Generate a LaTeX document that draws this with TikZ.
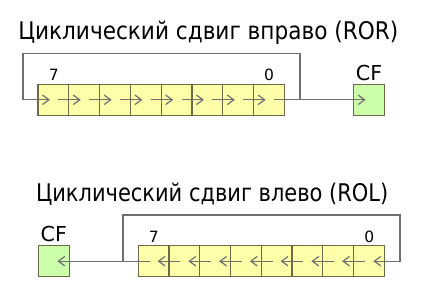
\documentclass[tikz,border=0pt]{standalone}
\usepackage{fontspec}
\setmainfont{DejaVu Sans}
\usetikzlibrary{arrows.meta,calc}
\definecolor{cellfill}{HTML}{FFFFAA}
\definecolor{cellline}{HTML}{6B6B48}
\definecolor{cffill}{HTML}{CCFFAA}
\definecolor{linecol}{HTML}{707070}
\begin{document}
\begin{tikzpicture}[x=1pt,y=-1pt,
  cell/.style={draw=cellline,fill=cellfill,line width=1.1pt,minimum width=30.8pt,minimum height=31pt,inner sep=0pt,outer sep=0pt},
  cfbox/.style={draw=cellline,fill=cffill,line width=1.1pt,minimum width=30.7pt,minimum height=31pt,inner sep=0pt,outer sep=0pt},
  arr/.style={draw=linecol,line width=1.2pt,-{Straight Barb[length=6.5pt,width=9.5pt]}},
  bitlbl/.style={font=\fontsize{15.5}{18}\selectfont,inner sep=0pt,anchor=base},
  cflbl/.style={font=\fontsize{20.6}{24}\selectfont,inner sep=0pt,anchor=base},
  titlelbl/.style={font=\fontsize{24.3}{28}\selectfont,inner sep=0pt,anchor=base}]
\fill[white] (0,0) rectangle (423,300);
\useasboundingbox (0,0) rectangle (423,300);
% titles
\node[titlelbl] (title1) at (208.3,39.3) {\resizebox{380pt}{\height}{Циклический сдвиг вправо (ROR)}};
\node[titlelbl] (title2) at (212.2,201) {\resizebox{352.3pt}{\height}{Циклический сдвиг влево (ROL)}};
% top register
\foreach \i in {1,...,8}{
  \node[cell] (t\i) at ({38+30.8*(\i-1)+15.4},99.8) {};
}
\node[cfbox] (cft) at (369,99.8) {};
\node[cflbl] (cftl) at (369,80) {CF};
\node[bitlbl] (t7l) at (53.7,80.7) {7};
\node[bitlbl] (t0l) at (269,80.7) {0};
\foreach \i [evaluate=\i as \j using int(\i+1)] in {1,...,7}{
  \draw[arr] ($(t\i.west)+(20.3,0)$) -- ($(t\j.west)+(12,0)$);
}
\draw[arr] ($(t8.west)+(20.3,0)$) -- ($(cft.west)+(12,0)$);
\coordinate (tjr) at (300,99.8);
\coordinate (ttl) at (23,53.7);
\draw[arr] (tjr) |- (ttl) |- ($(t1.west)+(12,0)$);
% bottom register
\foreach \i in {1,...,8}{
  \node[cell] (b\i) at ({138.3+30.75*(\i-1)+15.375},261.2) {};
}
\node[cfbox] (cfb) at (53.7,261.2) {};
\node[cflbl] (cfbl) at (53.8,241.7) {CF};
\node[bitlbl] (b7l) at (153.7,242.3) {7};
\node[bitlbl] (b0l) at (369.3,242.3) {0};
\foreach \i [evaluate=\i as \j using int(\i-1)] in {2,...,8}{
  \draw[arr] ($(b\i.east)+(-19.5,0)$) -- ($(b\j.east)+(-11.5,0)$);
}
\draw[arr] ($(b1.east)+(-19.5,0)$) -- ($(cfb.east)+(-11.7,0)$);
\coordinate (bjl) at (123,261.2);
\coordinate (btr) at (400,215);
\draw[arr] (bjl) |- (btr) |- ($(b8.east)+(-11,0)$);
\end{tikzpicture}
\end{document}
